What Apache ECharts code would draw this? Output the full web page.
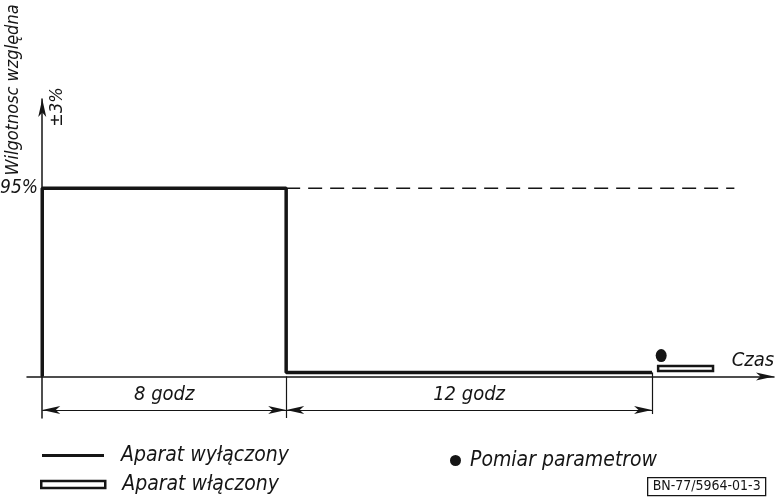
<!DOCTYPE html>
<html>
<head>
<meta charset="utf-8">
<script src="https://cdn.jsdelivr.net/npm/echarts@6/dist/echarts.min.js"></script>
<style>
  html, body { margin: 0; padding: 0; background: #fff; }
  #chart { width: 777px; height: 500px; }
</style>
</head>
<body>
<div id="chart"></div>
<script>
// czas w godzinach, wilgotnosc w %
var offX = [0, 0, 8, 8, 20];
var offY = [0, 95, 95, 2, 2];
var dashX = [8, 22.7];
var dashY = [95, 95];
var onStart = [20.2];
var onEnd = [22];
var onY = [4];
var measX = [20.3];
var measY = [10.5];
var spanStart = [0, 8];
var spanEnd = [8, 20];
var spanLabels = ['8 godz', '12 godz'];
var yTicks = [95];

var FONT = "'Liberation Sans Narrow', 'DejaVu Sans Condensed', sans-serif";
var INK = '#151515';

function pairs(xs, ys) {
    var out = [];
    for (var i = 0; i < xs.length; i++) out.push([xs[i], ys[i]]);
    return out;
}

var dimY = -17;
var dimLines = [];
for (var i = 0; i < spanStart.length; i++) {
    dimLines.push([
        { coord: [spanStart[i], dimY], label: { formatter: spanLabels[i] } },
        { coord: [spanEnd[i], dimY] }
    ]);
}
// linie pomocnicze wymiarow
var extLines = [
    [{ coord: [8, 0] }, { coord: [8, -21] }],
    [{ coord: [20, 2] }, { coord: [20, -19] }]
];

var onData = [];
for (var j = 0; j < onStart.length; j++) onData.push([onStart[j], onEnd[j], onY[j]]);

var legendText = { color: INK, fontFamily: FONT, fontStyle: 'italic', fontSize: 21 };

var myChart = echarts.init(document.getElementById('chart'));
var option = {
    backgroundColor: '#fff',
    animation: false,
    grid: { left: 27, right: 3, top: 99, bottom: 82, containLabel: false, outerBoundsMode: 'none' },
    xAxis: {
        type: 'value', min: -0.5, max: 24,
        axisLine: { onZero: true, symbol: ['none', 'arrow'], symbolSize: [6, 18], lineStyle: { color: INK, width: 1.5 } },
        axisTick: { show: false }, axisLabel: { show: false }, splitLine: { show: false }
    },
    yAxis: {
        type: 'value', min: -21, max: 140,
        axisLine: { onZero: true, symbol: ['none', 'arrow'], symbolSize: [6, 18], lineStyle: { color: INK, width: 1.5 } },
        axisTick: { show: false }, splitLine: { show: false },
        axisLabel: {
            customValues: yTicks, margin: -11, color: INK, fontFamily: FONT, fontStyle: 'italic', fontSize: 19,
            formatter: function (v) { return v + '%'; }
        }
    },
    legend: [
        {
            left: 42, top: 445, padding: 0, itemWidth: 62, itemHeight: 3,
            textStyle: Object.assign({ padding: [0, 0, 0, 12] }, legendText),
            data: [{ name: 'Aparat wyłączony', icon: 'rect', itemStyle: { color: INK } }]
        },
        {
            left: 40, top: 474, padding: 0, itemWidth: 64, itemHeight: 7,
            textStyle: Object.assign({ padding: [0, 0, 0, 12] }, legendText),
            data: [{ name: 'Aparat włączony', icon: 'rect', itemStyle: { color: '#fff', borderColor: INK, borderWidth: 2.5 } }]
        },
        {
            left: 450, top: 450, padding: 0, itemWidth: 11, itemHeight: 13,
            textStyle: Object.assign({ padding: [0, 0, 0, 4] }, legendText),
            data: [{ name: 'Pomiar parametrow', icon: 'circle', itemStyle: { color: INK } }]
        }
    ],
    series: [
        {
            name: 'Aparat wyłączony', type: 'line', data: pairs(offX, offY), symbol: 'none',
            lineStyle: { color: INK, width: 3.5 }, itemStyle: { color: INK }, z: 5,
            markLine: {
                silent: true, symbol: ['arrow', 'arrow'], symbolSize: [6, 18],
                lineStyle: { color: INK, width: 1.2, type: 'solid' },
                label: {
                    show: true, position: 'insideMiddleTop', distance: 5,
                    color: INK, fontFamily: FONT, fontStyle: 'italic', fontSize: 20
                },
                data: dimLines
            }
        },
        {
            name: 'ext', type: 'line', data: [], symbol: 'none',
            markLine: {
                silent: true, symbol: ['none', 'none'],
                lineStyle: { color: INK, width: 1.2, type: 'solid' },
                label: { show: false },
                data: extLines
            }
        },
        {
            name: 'Prognoza', type: 'line', data: pairs(dashX, dashY), symbol: 'none',
            lineStyle: { color: INK, width: 1.5, type: [14, 8] }
        },
        {
            name: 'Aparat włączony', type: 'custom', data: onData, z: 6,
            itemStyle: { color: '#fff', borderColor: INK, borderWidth: 2.5 },
            renderItem: function (params, api) {
                var a = api.coord([api.value(0), api.value(2)]);
                var b = api.coord([api.value(1), api.value(2)]);
                return {
                    type: 'rect',
                    shape: { x: a[0], y: a[1] - 2.5, width: b[0] - a[0], height: 5 },
                    style: { fill: '#fff', stroke: INK, lineWidth: 2.5 }
                };
            }
        },
        {
            name: 'Pomiar parametrow', type: 'scatter', data: pairs(measX, measY),
            symbol: 'circle', symbolSize: [11, 13], itemStyle: { color: INK, opacity: 1 }
        }
    ],
    graphic: [
        {
            type: 'text', x: 13, y: 90, rotation: Math.PI / 2,
            style: { text: 'Wilgotnosc względna', fill: INK, font: 'italic 18px ' + FONT, align: 'center', verticalAlign: 'middle' }
        },
        {
            type: 'text', x: 57, y: 107, rotation: Math.PI / 2,
            style: { text: '±3%', fill: INK, font: 'italic 18px ' + FONT, align: 'center', verticalAlign: 'middle' }
        },
        {
            type: 'text', x: 753, y: 361,
            style: { text: 'Czas', fill: INK, font: 'italic 20px ' + FONT, align: 'center', verticalAlign: 'middle' }
        },
        {
            type: 'group', left: 647, top: 477,
            children: [
                { type: 'rect', shape: { x: 0, y: 0, width: 118, height: 18 }, style: { fill: '#fff', stroke: INK, lineWidth: 1.3 } },
                { type: 'text', x: 59, y: 9, style: { text: 'BN-77/5964-01-3', fill: INK, font: '14px ' + FONT, align: 'center', verticalAlign: 'middle' } }
            ]
        }
    ]
};
myChart.setOption(option);
</script>
</body>
</html>
